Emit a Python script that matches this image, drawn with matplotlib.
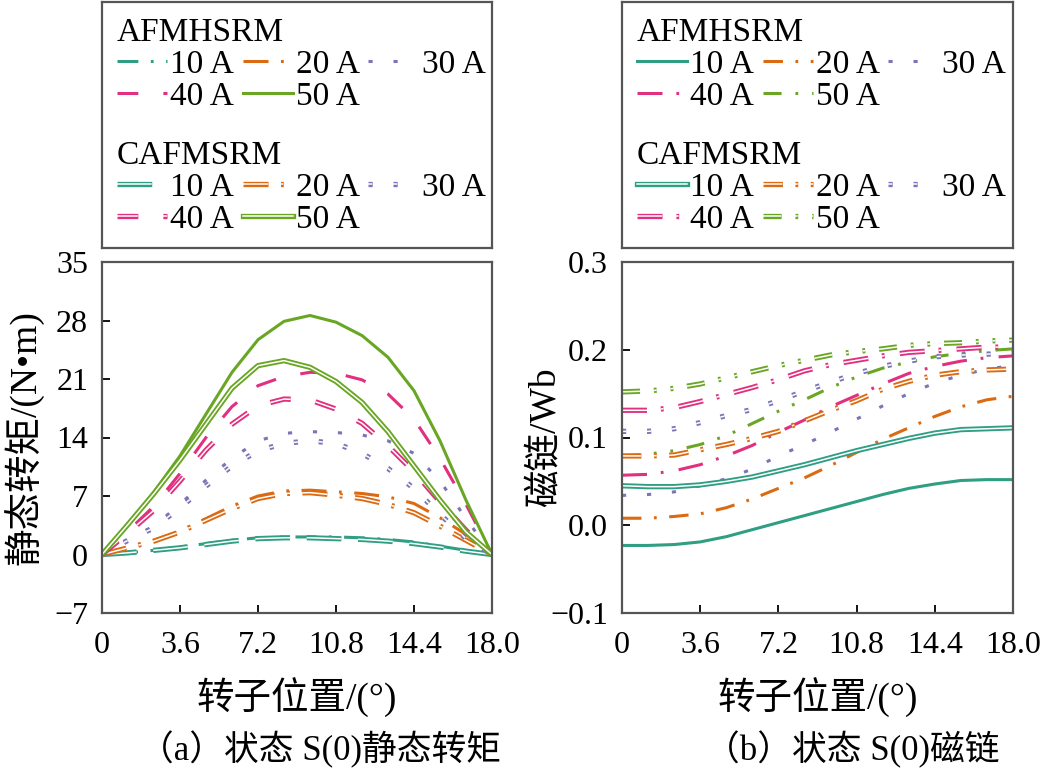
import matplotlib
matplotlib.use('Agg')
import matplotlib.pyplot as plt
import matplotlib.patheffects as pe
from matplotlib.legend import Legend

plt.rcParams['font.family'] = ['Liberation Serif', 'Noto Sans CJK SC']
plt.rcParams['lines.scale_dashes'] = False
plt.rcParams['axes.unicode_minus'] = True

# 转子位置 (°)
angle = [0.0, 1.2, 2.4, 3.6, 4.8, 6.0, 7.2, 8.4, 9.6, 10.8, 12.0, 13.2, 14.4, 15.6, 16.8, 18.0]
currents = ['10 A', '20 A', '30 A', '40 A', '50 A']
colors = ['#2f9e83', '#dc6a12', '#7a75b6', '#e0307f', '#69a624']

# (a) 静态转矩 N·m
torque_afm = [
    [0, 0.2, 0.5, 0.9, 1.3, 1.7, 2.0, 2.1, 2.1, 2.1, 2.0, 1.8, 1.5, 1.0, 0.5, 0],
    [0, 0.8, 1.7, 2.8, 4.3, 5.8, 7.0, 7.6, 7.7, 7.5, 7.3, 6.9, 6.1, 4.4, 2.4, 0],
    [0, 1.8, 3.4, 6.0, 8.9, 11.5, 13.6, 14.5, 14.7, 14.6, 14.3, 13.6, 12.1, 8.8, 4.3, 0],
    [0, 2.8, 5.8, 9.7, 14.0, 17.7, 20.2, 21.3, 21.8, 21.7, 20.9, 19.2, 16.2, 11.5, 6.0, 0],
    [0, 3.6, 7.5, 11.8, 16.8, 21.8, 25.7, 27.9, 28.6, 27.8, 26.2, 23.6, 19.6, 13.6, 6.5, 0],
]
torque_caf = [
    [0, 0.2, 0.5, 0.8, 1.2, 1.6, 1.9, 2.0, 2.0, 1.9, 1.8, 1.6, 1.3, 0.9, 0.4, 0],
    [0, 0.8, 1.6, 2.7, 4.1, 5.5, 6.7, 7.3, 7.4, 7.1, 6.7, 6.0, 5.0, 3.4, 1.7, 0],
    [0, 1.7, 3.2, 5.6, 8.2, 10.6, 12.4, 13.3, 13.6, 13.3, 12.1, 10.3, 7.9, 4.8, 1.9, 0],
    [0, 2.6, 5.3, 8.8, 12.5, 15.6, 17.8, 18.6, 18.5, 17.4, 15.7, 13.0, 9.9, 6.3, 2.9, 0],
    [0, 3.6, 7.3, 11.3, 15.6, 19.9, 22.6, 23.2, 22.4, 20.7, 18.2, 14.7, 10.6, 6.5, 2.7, 0],
]

# (b) 磁链 Wb
flux_afm = [
    [-0.023, -0.023, -0.022, -0.019, -0.013, -0.005, 0.003, 0.011, 0.019, 0.027, 0.035, 0.042, 0.047, 0.051, 0.052, 0.052],
    [0.008, 0.008, 0.010, 0.013, 0.020, 0.030, 0.042, 0.054, 0.068, 0.083, 0.098, 0.111, 0.124, 0.135, 0.143, 0.147],
    [0.034, 0.035, 0.038, 0.045, 0.053, 0.064, 0.079, 0.092, 0.106, 0.121, 0.136, 0.150, 0.162, 0.171, 0.178, 0.182],
    [0.057, 0.058, 0.062, 0.069, 0.079, 0.091, 0.106, 0.120, 0.135, 0.148, 0.161, 0.173, 0.181, 0.187, 0.191, 0.193],
    [0.079, 0.081, 0.085, 0.092, 0.102, 0.116, 0.130, 0.143, 0.157, 0.169, 0.179, 0.186, 0.192, 0.196, 0.199, 0.201],
]
flux_caf = [
    [0.045, 0.044, 0.044, 0.046, 0.050, 0.055, 0.062, 0.069, 0.077, 0.085, 0.092, 0.099, 0.105, 0.109, 0.110, 0.111],
    [0.079, 0.079, 0.080, 0.086, 0.092, 0.099, 0.107, 0.119, 0.131, 0.142, 0.155, 0.164, 0.171, 0.175, 0.177, 0.178],
    [0.107, 0.107, 0.110, 0.117, 0.125, 0.132, 0.142, 0.153, 0.163, 0.173, 0.181, 0.187, 0.192, 0.194, 0.195, 0.196],
    [0.131, 0.131, 0.134, 0.141, 0.149, 0.157, 0.166, 0.176, 0.183, 0.188, 0.193, 0.197, 0.199, 0.201, 0.203, 0.203],
    [0.152, 0.153, 0.156, 0.161, 0.168, 0.175, 0.182, 0.188, 0.194, 0.198, 0.201, 0.205, 0.207, 0.208, 0.210, 0.211],
]

x_ticks = [0, 3.6, 7.2, 10.8, 14.4, 18.0]
x_ticklabels = ['0', '3.6', '7.2', '10.8', '14.4', '18.0']
torque_ticks = [-7, 0, 7, 14, 21, 28, 35]
flux_ticks = [-0.1, 0.0, 0.1, 0.2, 0.3]
flux_ticklabels = ['\u22120.1', '0.0', '0.1', '0.2', '0.3']

# 线型（单位 pt）
solid = None
styles_a_single = [(15, 9, 2, 9), (18, 9, 2, 9), (3, 15), (15, 18), solid]
styles_a_double = [(25, 12), (18, 9, 2, 9), (3, 15), (15, 18), solid]
styles_b_single = [solid, (14, 9, 2, 9), (3, 15), (18, 10, 2, 11), (13, 10, 2, 10, 2, 10)]
styles_b_double = [solid, (14, 9, 2, 9), (3, 15), (18, 10, 2, 11), (13, 10, 2, 10, 2, 10)]

W, H = 1043, 784
fig = plt.figure(figsize=(W / 100, H / 100), dpi=100)
edge = '#555555'


def draw_curves(ax, ys_single, ys_double, st_single, st_double):
    singles, doubles = [], []
    for y, c, d in zip(ys_single, colors, st_single):
        line, = ax.plot(angle, y, color=c, lw=2.2)
        if d is not None:
            line.set_dashes(d)
        singles.append(line)
    for y, c, d in zip(ys_double, colors, st_double):
        line, = ax.plot(angle, y, color='white', lw=1.1,
                        path_effects=[pe.Stroke(linewidth=3.8, foreground=c), pe.Normal()])
        if d is not None:
            line.set_dashes(d)
        doubles.append(line)
    return singles, doubles


def style_axes(ax):
    for s in ax.spines.values():
        s.set_color(edge)
        s.set_linewidth(1.6)
    ax.tick_params(direction='in', length=6, width=1.3, labelsize=23,
                   top=False, right=False)
    ax.tick_params(axis='x', pad=13)
    ax.tick_params(axis='y', pad=10)


def draw_legend(rect, singles, doubles):
    box = fig.add_axes(rect)
    box.set_xticks([])
    box.set_yticks([])
    for s in box.spines.values():
        s.set_color(edge)
        s.set_linewidth(1.6)
    order = [0, 3, 1, 4, 2]
    for handles, title, ytop in [(singles, 'AFMHSRM', 1.0), (doubles, 'CAFMSRM', 0.5)]:
        lg = Legend(box, [handles[i] for i in order], [currents[i] for i in order],
                    ncol=3, title=title, loc='upper left', bbox_to_anchor=(0.0, ytop),
                    frameon=False, alignment='left', fontsize=24, title_fontsize=24,
                    handlelength=1.5, handletextpad=0.1, columnspacing=0.25,
                    labelspacing=0.05, borderpad=0.25, borderaxespad=0.2)
        box.add_artist(lg)


# (a)
ax1 = fig.add_axes([102 / W, 1 - 613 / H, 390 / W, 351 / H])
s1, d1 = draw_curves(ax1, torque_afm, torque_caf, styles_a_single, styles_a_double)
ax1.set_xlim(0, 18)
ax1.set_ylim(-7, 35)
ax1.set_xticks(x_ticks, labels=x_ticklabels)
ax1.set_yticks(torque_ticks)
style_axes(ax1)
ax1.set_xlabel('转子位置/(°)', fontsize=27)
ax1.set_ylabel('静态转矩/(N•m)', fontsize=27)
ax1.xaxis.set_label_coords(0.5, -0.185)
ax1.yaxis.set_label_coords(-0.15, 0.5)
draw_legend([102 / W, 1 - 248 / H, 390 / W, 246 / H], s1, d1)

# (b)
ax2 = fig.add_axes([622 / W, 1 - 613 / H, 391 / W, 351 / H])
s2, d2 = draw_curves(ax2, flux_afm, flux_caf, styles_b_single, styles_b_double)
ax2.set_xlim(0, 18)
ax2.set_ylim(-0.1, 0.3)
ax2.set_xticks(x_ticks, labels=x_ticklabels)
ax2.set_yticks(flux_ticks, labels=flux_ticklabels)
style_axes(ax2)
ax2.set_xlabel('转子位置/(°)', fontsize=27)
ax2.set_ylabel('磁链/Wb', fontsize=27)
ax2.xaxis.set_label_coords(0.5, -0.185)
ax2.yaxis.set_label_coords(-0.15, 0.5)
draw_legend([622 / W, 1 - 248 / H, 391 / W, 246 / H], s2, d2)

fig.text(320 / W, 1 - 750 / H, '（a）状态 S(0)静态转矩', fontsize=25, ha='center', va='center')
fig.text(852 / W, 1 - 750 / H, '（b）状态 S(0)磁链', fontsize=25, ha='center', va='center')

fig.savefig('out.png', dpi=100)
